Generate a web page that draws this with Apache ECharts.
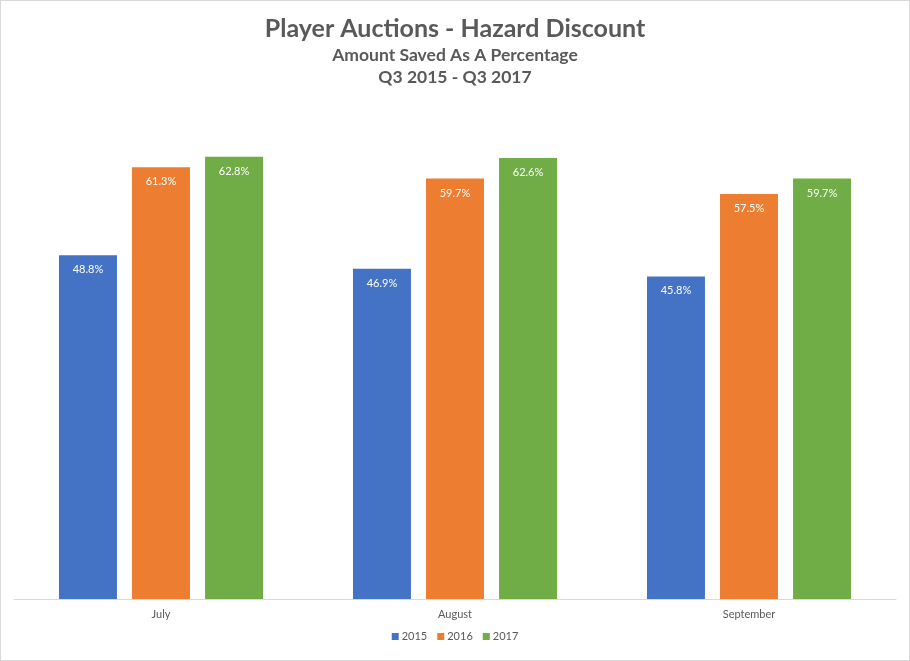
<!DOCTYPE html>
<html>
<head>
<meta charset="utf-8">
<script src="https://cdn.jsdelivr.net/npm/echarts@6/dist/echarts.min.js"></script>
<style>
html,body{margin:0;padding:0;background:#fff;}
#c{width:908px;height:659px;border:1px solid #d9d9d9;}
</style>
</head>
<body>
<div id="c"></div>
<script>
const categories = ['July', 'August', 'September'];
const seriesNames = ['2015', '2016', '2017'];
const values2015 = [48.8, 46.9, 45.8];
const values2016 = [61.3, 59.7, 57.5];
const values2017 = [62.8, 62.6, 59.7];
const colors = ['#4472c4', '#ed7d31', '#70ad47'];

const chart = echarts.init(document.getElementById('c'));
const font = 'Lato, "Open Sans", "Liberation Sans", sans-serif';
const dataSets = [values2015, values2016, values2017];
chart.setOption({
  animation: false,
  textStyle: { fontFamily: font },
  title: [
    { text: 'Player Auctions - Hazard Discount', left: 'center', top: 10,
      textStyle: { fontSize: 25, fontWeight: 'bold', color: '#595959', fontFamily: font } },
    { text: 'Amount Saved As A Percentage\nQ3 2015 - Q3 2017', left: 'center', top: 38,
      textStyle: { fontSize: 17.5, fontWeight: 'bold', color: '#595959', lineHeight: 22, fontFamily: font } }
  ],
  legend: {
    bottom: 13, left: 'center', itemWidth: 7, itemHeight: 7, itemGap: 10,
    icon: 'rect',
    textStyle: { fontSize: 11, color: '#595959', padding: [0, 0, 0, -2] },
    data: seriesNames
  },
  grid: { left: 13, right: 13, top: 105, bottom: 61 },
  xAxis: {
    type: 'category', data: categories,
    axisLine: { lineStyle: { color: '#d9d9d9', width: 1 } },
    axisTick: { show: false },
    axisLabel: { color: '#595959', fontSize: 11, margin: 10 }
  },
  yAxis: {
    type: 'value', min: 0, max: 70, show: false,
    splitLine: { show: false }
  },
  series: seriesNames.map((name, i) => ({
    name: name, type: 'bar', data: dataSets[i],
    itemStyle: { color: colors[i] },
    barGap: '26%', barCategoryGap: '30.6%',
    label: { show: true, position: 'insideTop', distance: 9, color: '#fff', fontSize: 11,
      formatter: p => p.value.toFixed(1) + '%' }
  }))
});
</script>
</body>
</html>
